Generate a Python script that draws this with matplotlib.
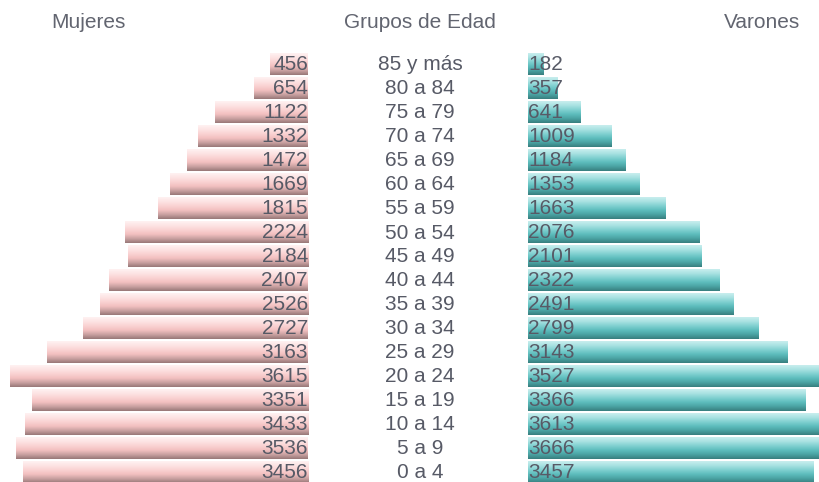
import matplotlib
matplotlib.use("Agg")
import matplotlib.pyplot as plt
from matplotlib.colors import LinearSegmentedColormap
import numpy as np

# Age groups, oldest at the top
grupos = ["85 y más", "80 a 84", "75 a 79", "70 a 74", "65 a 69", "60 a 64",
          "55 a 59", "50 a 54", "45 a 49", "40 a 44", "35 a 39", "30 a 34",
          "25 a 29", "20 a 24", "15 a 19", "10 a 14", "5 a 9", "0 a 4"]
mujeres = [456, 654, 1122, 1332, 1472, 1669, 1815, 2224, 2184, 2407,
           2526, 2727, 3163, 3615, 3351, 3433, 3536, 3456]
varones = [182, 357, 641, 1009, 1184, 1353, 1663, 2076, 2101, 2322,
           2491, 2799, 3143, 3527, 3366, 3613, 3666, 3457]

plt.rcParams['font.family'] = ['Liberation Sans', 'DejaVu Sans']
gris = "#575a66"

W, H = 819, 482
fig = plt.figure(figsize=(W / 100, H / 100), dpi=100)

# vertical gradients, top of bar -> bottom of bar
rosa = LinearSegmentedColormap.from_list(
    "rosa", ["#fff2f2", "#fde3e3", "#fad2d2", "#f2c0c0", "#c9a1a1", "#987878"])
verde = LinearSegmentedColormap.from_list(
    "verde", ["#c8eeee", "#a8e2e2", "#80d0d0", "#5dbdbd", "#4aa2a2", "#387f7f"])
grad = np.linspace(0, 1, 64).reshape(-1, 1)

px_per_unit = 0.0825
row = 24.0
y_top = 64.0
ylim = ((H - y_top) / row, -y_top / row)
alto = 22 / row

ax_m = fig.add_axes([0, 0, 308 / W, 1])
ax_v = fig.add_axes([528 / W, 0, (W - 528) / W, 1])

for ax, vals, cmap, lado in [(ax_m, mujeres, rosa, "izq"), (ax_v, varones, verde, "der")]:
    for i, v in enumerate(vals):
        y0, y1 = i - alto / 2, i + alto / 2
        ax.imshow(grad, cmap=cmap, aspect="auto", extent=[0, v, y1, y0],
                  interpolation="bilinear", zorder=1)
        ax.text(0, i + 0.04, str(v), ha="right" if lado == "izq" else "left",
                va="center", fontsize=15, color=gris, zorder=3)
    ax.set_ylim(*ylim)
    ax.axis("off")

ax_m.set_xlim(308 / px_per_unit, 0)
ax_v.set_xlim(0, (W - 528) / px_per_unit)

# age group labels in the middle column
for i, g in enumerate(grupos):
    fig.text(420 / W, 1 - (y_top + row * i + 1) / H, g, ha="center", va="center",
             fontsize=15, color=gris)

fig.text(88 / W, 1 - 22 / H, "Mujeres", ha="center", va="center", fontsize=15, color="#626570")
fig.text(420 / W, 1 - 22 / H, "Grupos de Edad", ha="center", va="center", fontsize=15, color="#626570")
fig.text(762 / W, 1 - 22 / H, "Varones", ha="center", va="center", fontsize=15, color="#626570")

fig.savefig("out.png", dpi=100)
